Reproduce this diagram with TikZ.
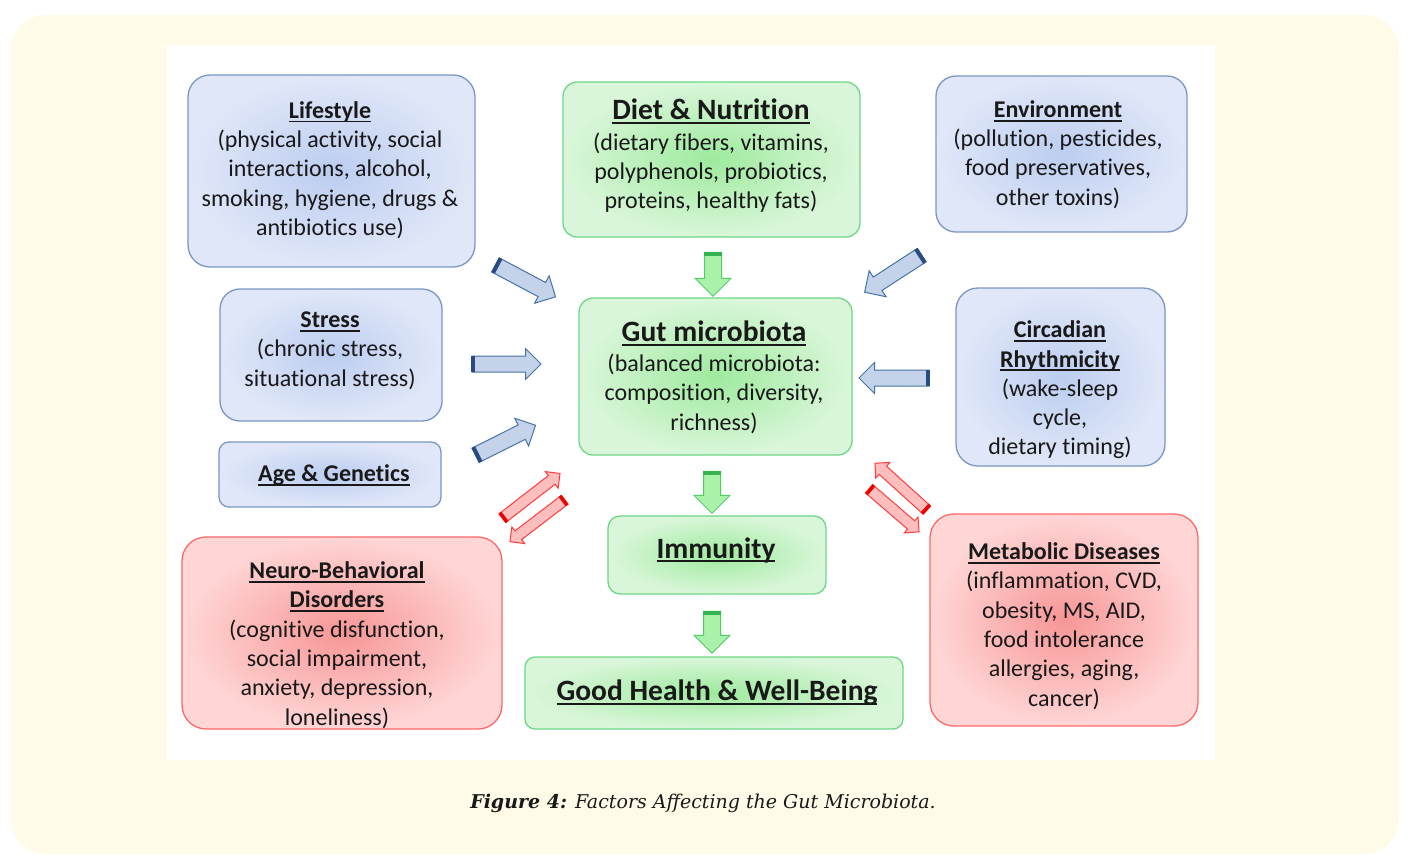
\documentclass[tikz,border=0pt]{standalone}
\usepackage{fontspec}
\setmainfont{Carlito}[Ligatures=CommonOff]
\newfontfamily\capfont{DejaVu Serif}
\usetikzlibrary{shapes.arrows,calc}
\definecolor{cream}{RGB}{255,251,232}
\definecolor{bbord}{RGB}{122,150,196}
\definecolor{binner}{RGB}{188,205,240}
\definecolor{bouter}{RGB}{224,231,248}
\definecolor{gbord}{RGB}{110,214,135}
\definecolor{ginner}{RGB}{158,234,158}
\definecolor{gouter}{RGB}{218,246,218}
\definecolor{rbord}{RGB}{255,105,105}
\definecolor{rinner}{RGB}{247,150,150}
\definecolor{router}{RGB}{255,214,214}
\definecolor{textc}{RGB}{25,25,25}
\definecolor{bafill}{RGB}{197,211,234}
\definecolor{badraw}{RGB}{70,115,165}
\definecolor{bacap}{RGB}{40,75,130}
\definecolor{gafill}{RGB}{170,242,170}
\definecolor{gadraw}{RGB}{80,205,100}
\definecolor{gacap}{RGB}{50,180,80}
\definecolor{rafill}{RGB}{255,190,190}
\definecolor{radraw}{RGB}{255,60,60}
\definecolor{racap}{RGB}{235,0,0}
\newcommand\ulb[1]{\leavevmode\setbox0\hbox{\textbf{#1}}\rlap{\vrule width\wd0 height -2.4pt depth 4.3pt}\box0}
\tikzset{
  boxbase/.style={draw, line width=1.3pt, inner sep=0pt},
  bluebox/.style={boxbase, rounded corners=22pt, draw=bbord, inner color=binner, outer color=bouter},
  greenbox/.style={boxbase, rounded corners=14pt, draw=gbord, inner color=ginner, outer color=gouter},
  redbox/.style={boxbase, rounded corners=24pt, draw=rbord, inner color=rinner, outer color=router},
  txt/.style={align=center, font=\fontsize{24}{29.3}\selectfont, inner sep=0pt, text=textc},
  bigtxt/.style={txt, font=\fontsize{29.5}{32}\selectfont},
  arrbase/.style={single arrow, single arrow tip angle=90, inner sep=0pt, text depth=0pt, minimum width=0pt, line width=1pt},
  bluearr/.style={arrbase, text height=15pt, single arrow head extend=7.5pt, fill=bafill, draw=badraw},
  greenarr/.style={arrbase, text height=16pt, single arrow head extend=9.5pt, fill=gafill, draw=gadraw},
  redarr/.style={arrbase, text height=10pt, single arrow head extend=5pt, fill=rafill, draw=radraw},
  bcap/.style={draw=bacap, line width=4pt},
  gcap/.style={draw=gacap, line width=4pt},
  rcap/.style={draw=racap, line width=3.5pt},
}
\newcommand\tailcap[2]{\draw[#2] ($(#1.before tail)!2pt!(#1.tip)$) -- ($(#1.after tail)!2pt!(#1.tip)$);}
\begin{document}
\begin{tikzpicture}[x=1pt,y=-1pt]
\useasboundingbox (0,0) rectangle (1417,855);
\fill[cream, rounded corners=35pt] (11,15) rectangle (1399,854);
\fill[white] (167,45) rectangle (1215,760);

% boxes
\node[bluebox, minimum width=287pt, minimum height=192pt] (lifeB) at (331.5,171) {};
\node[greenbox, minimum width=297pt, minimum height=155pt] (dietB) at (711.5,159.5) {};
\node[bluebox, rounded corners=20pt, minimum width=251pt, minimum height=156pt] (envB) at (1061.5,154) {};
\node[bluebox, rounded corners=20pt, minimum width=222pt, minimum height=132pt] (stressB) at (331,355) {};
\node[greenbox, minimum width=273pt, minimum height=157pt] (gutB) at (715.5,376.5) {};
\node[bluebox, minimum width=209pt, minimum height=178pt] (circB) at (1060.5,377) {};
\node[bluebox, rounded corners=10pt, minimum width=222pt, minimum height=65pt] (ageB) at (330,474.5) {};
\node[greenbox, rounded corners=12pt, minimum width=218pt, minimum height=78pt] (immB) at (717,555) {};
\node[redbox, minimum width=320pt, minimum height=192pt] (neuroB) at (342,633) {};
\node[redbox, minimum width=268pt, minimum height=212pt] (metaB) at (1064,620) {};
\node[greenbox, rounded corners=10pt, minimum width=378pt, minimum height=72pt] (goodB) at (714,693) {};

% texts
\node[txt] (lifeT) at (330,170) {\ulb{Lifestyle}\\(physical activity, social\\interactions, alcohol,\\smoking, hygiene, drugs \&\\antibiotics use)};
\node[txt] (dietT) at (711,156) {{\fontsize{29.5}{32}\selectfont\ulb{Diet \& Nutrition}}\\[1pt](dietary fibers, vitamins,\\polyphenols, probiotics,\\proteins, healthy fats)};
\node[txt] (envT) at (1058,154.5) {\ulb{Environment}\\(pollution, pesticides,\\food preservatives,\\other toxins)};
\node[txt] (stressT) at (330,350.5) {\ulb{Stress}\\(chronic stress,\\situational stress)};
\node[txt] (gutT) at (714,377) {{\fontsize{29.5}{32}\selectfont\ulb{Gut microbiota}}\\[1pt](balanced microbiota:\\composition, diversity,\\richness)};
\node[txt] (circT) at (1060,390) {\ulb{Circadian}\\\ulb{Rhythmicity}\\(wake-sleep\\cycle,\\dietary timing)};
\node[txt] (ageT) at (334,475) {\ulb{Age \& Genetics}};
\node[bigtxt] (immT) at (716,550) {\ulb{Immunity}};
\node[bigtxt] (goodT) at (717,693) {\ulb{Good Health \& Well-Being}};
\node[txt] (neuroT) at (337,645) {\ulb{Neuro-Behavioral}\\\ulb{Disorders}\\(cognitive disfunction,\\social impairment,\\anxiety, depression,\\loneliness)};
\node[txt] (metaT) at (1064,626) {\ulb{Metabolic Diseases}\\(inflammation, CVD,\\obesity, MS, AID,\\food intolerance\\allergies, aging,\\cancer)};

% blue arrows
\node[bluearr, rotate=-28, minimum height=68pt] (a1) at (522,279) {};
\node[bluearr, rotate=0, minimum height=69pt] (a2) at (502.5,364) {};
\node[bluearr, rotate=26.6, minimum height=67pt] (a3) at (502,442) {};
\node[bluearr, rotate=-147, minimum height=68pt] (a4) at (896.5,271.5) {};
\node[bluearr, rotate=180, minimum height=70pt] (a5) at (898,378) {};
\foreach \a in {a1,a2,a3,a4,a5} {\tailcap{\a}{bcap}}
% green arrows
\node[greenarr, rotate=-90, minimum height=44pt] (g1) at (713,270) {};
\node[greenarr, rotate=-90, minimum height=42pt] (g2) at (712,488) {};
\node[greenarr, rotate=-90, minimum height=42pt] (g3) at (712,628) {};
\foreach \a in {g1,g2,g3} {\tailcap{\a}{gcap}}
% red arrows
\node[redarr, rotate=37.8, minimum height=73pt] (r1) at (529,497.5) {};
\node[redarr, rotate=-142.6, minimum height=69pt] (r2) at (539.5,519) {};
\node[redarr, rotate=137.9, minimum height=70pt] (r3) at (903,488.5) {};
\node[redarr, rotate=-40.7, minimum height=66pt] (r4) at (892,508.5) {};
\foreach \a in {r1,r2,r3,r4} {\tailcap{\a}{rcap}}

% caption
\node[inner sep=0pt, text=textc, font=\capfont\fontsize{19}{23}\selectfont] (cap) at (703,803) {\textbf{\textit{Figure 4:}} \textit{Factors Affecting the Gut Microbiota.}};
\end{tikzpicture}
\end{document}
